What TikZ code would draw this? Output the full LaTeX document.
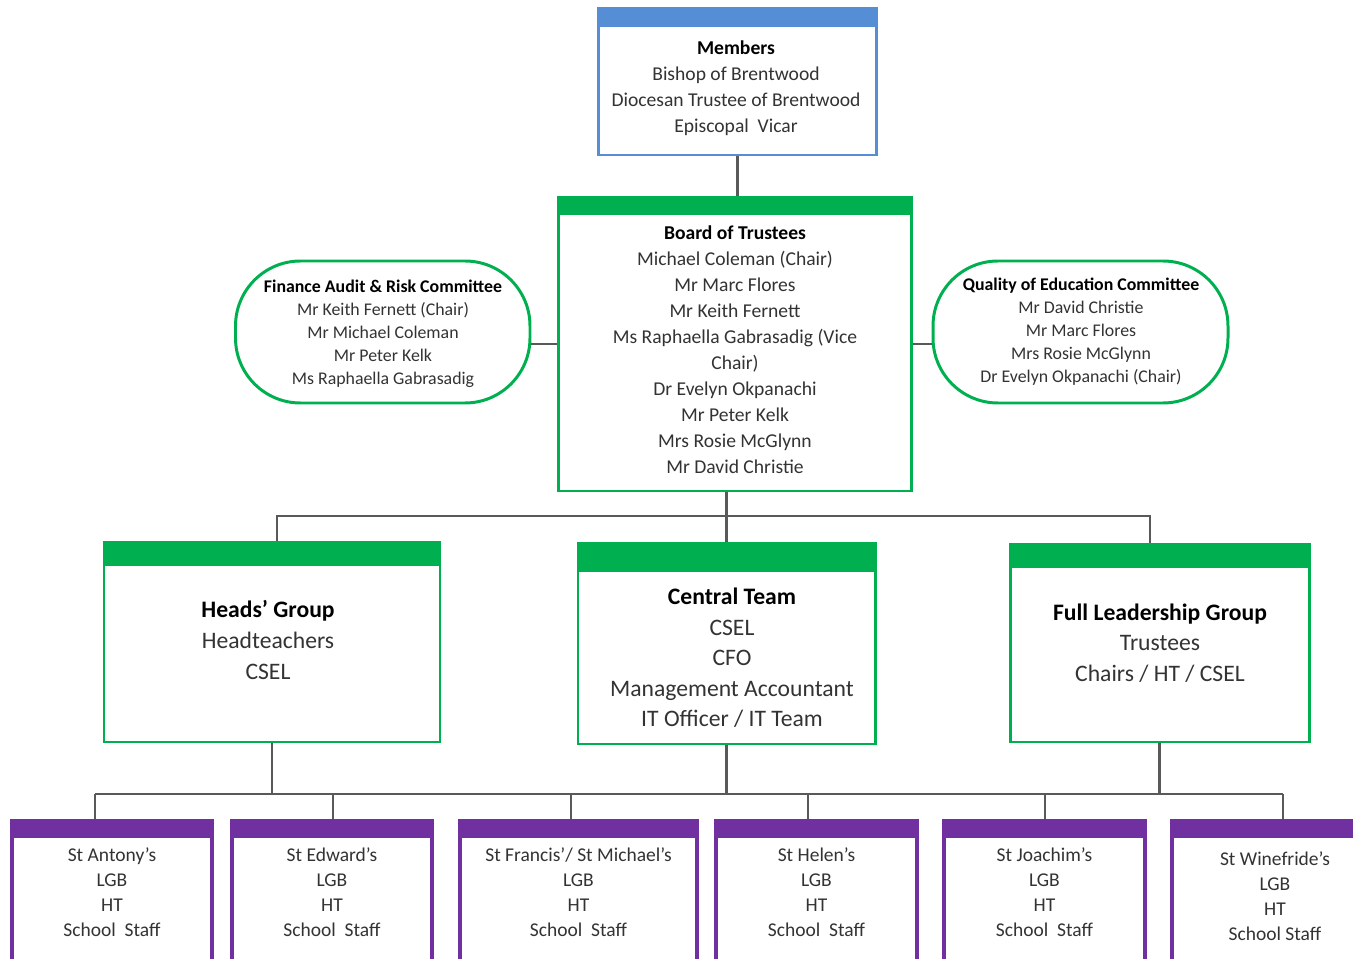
\documentclass[tikz,border=0pt]{standalone}
\usepackage{fontspec}
\setmainfont{Carlito}

\definecolor{hdblue}{HTML}{558ED5}
\definecolor{grn}{HTML}{00B050}
\definecolor{purp}{HTML}{7030A0}
\definecolor{conn}{HTML}{595959}
\definecolor{txtgray}{HTML}{333333}

\newcommand{\hd}[1]{\textcolor{black}{\textbf{#1}}}
\newcommand{\bandh}{0.4cm}

\tikzset{
  bandh/.store in=\bandh,
  frame/.style={draw=#1, line width=1.7pt, fill=white, inner sep=0pt,
    path picture={\fill[#1] (path picture bounding box.north west) rectangle ([yshift=-\bandh]path picture bounding box.north east);}},
  wd/.style={minimum width=#1*0.02cm},
  ht/.style={minimum height=#1*0.02cm},
  commit/.style={draw=grn, line width=1.7pt, rounded corners=1.3cm, fill=white, inner sep=0pt},
  link/.style={draw=conn, line width=1.6pt},
  tx/.style={text=txtgray, align=center, inner sep=0pt},
  fmid/.style={font=\fontsize{11.15}{14.8}\selectfont},
  fsmall/.style={font=\fontsize{10.15}{13.1}\selectfont},
  fbig/.style={font=\fontsize{13.45}{17.4}\selectfont},
  fschool/.style={font=\fontsize{11.1}{14.2}\selectfont}
}

\begin{document}
\begin{tikzpicture}[x=0.02cm, y=-0.02cm]
    \useasboundingbox (0,0) rectangle (1353,959);
    \clip (0,0) rectangle (1353,959);

    % top of the trust
    \node[frame=hdblue, bandh=0.38cm, wd=278.5, ht=147] (members) at (737.5,81.5) {};
    \node[frame=grn, bandh=0.36cm, wd=353, ht=294] (board) at (735,344) {};
    \node[commit, wd=294.5, ht=142] (finance) at (382.75,332) {};
    \node[commit, wd=295, ht=142] (quality) at (1080.5,332) {};

    \node[tx, fmid] (members-t) at (736,88) {\hd{Members}\\Bishop of Brentwood\\Diocesan Trustee of Brentwood\\Episcopal\ \ Vicar};
    \node[tx, fmid] (board-t) at (735,350) {\hd{Board of Trustees}\\Michael Coleman (Chair)\\Mr Marc Flores\\Mr Keith Fernett\\Ms Raphaella Gabrasadig (Vice\\Chair)\\Dr Evelyn Okpanachi\\Mr Peter Kelk\\Mrs Rosie McGlynn\\Mr David Christie};
    \node[tx, fsmall] (finance-t) at (383,334) {\hd{Finance Audit \& Risk Committee}\\Mr Keith Fernett (Chair)\\Mr Michael Coleman\\Mr Peter Kelk\\Ms Raphaella Gabrasadig};
    \node[tx, fsmall] (quality-t) at (1081,332) {\hd{Quality of Education Committee}\\Mr David Christie\\Mr Marc Flores\\Mrs Rosie McGlynn\\Dr Evelyn Okpanachi (Chair)};

    % groups
    \node[frame=grn, bandh=0.48cm, wd=336, ht=200] (heads) at (272,642) {};
    \node[frame=grn, bandh=0.58cm, wd=297, ht=201] (central) at (726.5,643.5) {};
    \node[frame=grn, bandh=0.48cm, wd=299, ht=198] (full) at (1159.5,643) {};

    \node[tx, fbig] (heads-t) at (268,640) {\hd{Heads’ Group}\\Headteachers\\CSEL};
    \node[tx, fbig] (central-t) at (732,658) {\hd{Central Team}\\CSEL\\CFO\\Management Accountant\\IT Officer / IT Team};
    \node[tx, fbig] (full-t) at (1160,643) {\hd{Full Leadership Group}\\Trustees\\Chairs / HT / CSEL};

    % schools
    \foreach \n/\cx/\w/\ty/\nm in {s1/112/200/892/{St Antony’s\\LGB\\HT\\School\ \ Staff},
        s2/332/200/892/{St Edward’s\\LGB\\HT\\School\ \ Staff},
        s3/578.5/237/892/{St Francis’/ St Michael’s\\LGB\\HT\\School\ \ Staff},
        s4/816.5/201/892/{St Helen’s\\LGB\\HT\\School\ \ Staff},
        s5/1044.5/201/892/{St Joachim’s\\LGB\\HT\\School\ \ Staff},
        s6/1275/206/896/{St Winefride’s\\LGB\\HT\\School Staff}}
    {
        \node[frame=purp, bandh=0.34cm, wd=\w, ht=169, line width=2.2pt] (\n) at (\cx,905.5) {};
        \node[tx, fschool] (\n-t) at (\cx,\ty) {\nm};
    }

    % connectors
    \coordinate (busU) at (0,516);
    \coordinate (busL) at (95,794);
    \coordinate (busR) at (1283,794);

    \draw[link] (members.south) -- (members.south |- board.north);
    \draw[link] (finance.east |- board.west) -- (board.west);
    \draw[link] (board.east) -- (board.east -| quality.west);
    \draw[link] (board.south -| central.north) -- (central.north);
    \draw[link] ([xshift=0.1cm]heads.north) -- ([xshift=0.1cm]heads.north |- busU)
        -- ([xshift=-0.19cm]full.north |- busU) -- ([xshift=-0.19cm]full.north);

    \draw[link] (busL) -- (busR);
    \foreach \g in {heads, central, full}
        \draw[link] (\g.south) -- (\g.south |- busL);
    \foreach \n/\dx in {s1/-17, s2/1, s3/-7.5, s4/-8.5, s5/0.5, s6/8}
        \draw[link] ([xshift=\dx*0.02cm]\n.north) -- ([xshift=\dx*0.02cm]\n.north |- busL);
\end{tikzpicture}
\end{document}
